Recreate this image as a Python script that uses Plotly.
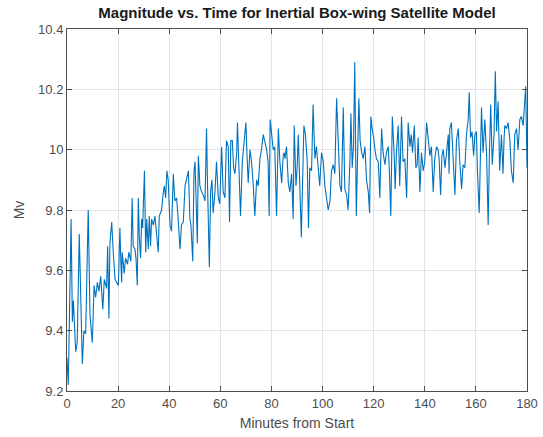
import plotly.graph_objects as go

title_text = "Magnitude vs. Time for Inertial Box-wing Satellite Model"
x_label = "Minutes from Start"
y_label = "Mv"

x_ticks = [0, 20, 40, 60, 80, 100, 120, 140, 160, 180]
y_ticks = [9.2, 9.4, 9.6, 9.8, 10.0, 10.2, 10.4]
y_tick_text = ["9.2", "9.4", "9.6", "9.8", "10", "10.2", "10.4"]

minutes = [
    0.0, 0.5, 1.6, 2.1, 2.5, 3.4, 4.0, 4.8, 6.0, 6.6, 7.3, 8.3, 9.0, 9.9,
    10.6, 11.2, 11.9, 12.5, 13.2, 14.0, 14.6, 15.5, 15.9, 16.4, 16.8, 17.5,
    18.1, 18.8, 20.1, 20.7, 21.1, 21.4, 21.6, 22.4, 22.9, 23.7, 24.2, 25.0,
    25.5, 25.9, 26.6, 27.0, 27.5, 27.9, 28.3, 28.8, 29.2, 29.6, 30.3, 30.8,
    31.2, 31.8, 32.2, 32.7, 33.1, 33.8, 34.4, 35.1, 35.7, 36.1, 37.0, 37.7,
    38.1, 38.6, 39.1, 39.6, 40.3, 40.9, 41.6, 42.2, 42.9, 43.5, 44.2, 44.8,
    45.5, 46.2, 46.8, 47.5, 48.1, 48.5, 49.2, 49.7, 50.1, 50.5, 51.0, 51.4,
    52.0, 52.7, 53.3, 54.0, 54.6, 55.0, 55.7, 56.2, 56.7, 57.2, 57.9, 58.5,
    59.2, 59.8, 60.5, 61.1, 61.8, 62.4, 63.1, 63.6, 64.1, 64.7, 65.2, 65.7,
    66.4, 66.7, 67.2, 67.9, 68.6, 69.4, 70.0, 70.4, 70.9, 71.6, 72.2, 72.9,
    73.5, 74.2, 74.8, 75.5, 76.1, 76.8, 77.4, 78.1, 78.7, 79.1, 79.5, 80.0,
    80.7, 81.3, 82.0, 82.7, 83.3, 84.0, 84.6, 85.0, 85.3, 85.9, 86.6, 87.2,
    87.9, 88.5, 88.9, 89.6, 90.1, 90.5, 91.1, 91.7, 92.2, 92.7, 93.3, 94.0,
    94.5, 95.0, 95.7, 96.3, 97.0, 97.6, 98.3, 98.9, 99.6, 100.3, 100.9, 101.6,
    102.2, 102.9, 103.5, 104.2, 104.8, 105.5, 106.1, 106.8, 107.4, 108.1,
    108.7, 109.4, 110.0, 110.7, 111.1, 111.6, 112.1, 112.6, 113.2, 113.7,
    114.2, 114.7, 115.3, 115.9, 116.6, 117.2, 117.9, 118.4, 118.9, 119.4,
    120.0, 120.5, 121.1, 121.8, 122.4, 123.1, 123.7, 124.4, 125.0, 125.7,
    126.1, 126.7, 127.3, 128.0, 128.4, 128.9, 129.6, 130.2, 130.9, 131.5,
    132.2, 132.9, 133.5, 134.2, 134.7, 135.2, 135.9, 136.5, 137.0, 137.4,
    138.1, 138.7, 139.4, 140.0, 140.7, 141.3, 142.0, 142.6, 143.3, 143.9,
    144.6, 145.2, 145.6, 146.2, 146.7, 147.2, 147.9, 148.5, 149.2, 149.5,
    149.8, 150.4, 151.1, 151.8, 152.4, 153.1, 153.7, 154.4, 155.0, 155.7,
    156.3, 157.0, 157.4, 157.9, 158.5, 159.1, 159.6, 160.2, 160.6, 161.3,
    161.8, 162.2, 162.8, 163.5, 164.2, 164.8, 165.3, 165.8, 166.4, 167.1,
    167.6, 168.1, 168.7, 169.3, 170.0, 170.6, 171.0, 171.3, 172.0, 172.6,
    173.3, 173.9, 174.6, 175.2, 175.9, 176.5, 177.2, 177.8, 178.5, 179.1,
    179.5, 180.0,
]

mv = [
    9.31, 9.22, 9.77, 9.43, 9.50, 9.33, 9.36, 9.72, 9.29, 9.40, 9.39, 9.80, 9.45, 9.36,
    9.55, 9.51, 9.56, 9.53, 9.58, 9.47, 9.57, 9.54, 9.68, 9.44, 9.69, 9.76,
    9.66, 9.57, 9.55, 9.74, 9.62, 9.56, 9.66, 9.59, 9.64, 9.62, 9.66, 9.63,
    9.84, 9.68, 9.67, 9.64, 9.55, 9.84, 9.71, 9.64, 9.77, 9.74, 9.93, 9.66,
    9.77, 9.67, 9.78, 9.68, 9.77, 9.75, 9.78, 9.72, 9.66, 9.78, 9.80, 9.86,
    9.88, 9.84, 9.93, 9.90, 9.75, 9.73, 9.92, 9.83, 9.84, 9.77, 9.67, 9.75,
    9.76, 9.88, 9.90, 9.93, 9.77, 9.75, 9.63, 9.93, 9.96, 9.82, 9.69, 9.98,
    9.88, 9.86, 9.85, 9.83, 10.07, 9.88, 9.61, 9.86, 9.90, 9.79, 9.86, 9.96,
    9.84, 9.82, 10.01, 9.86, 9.84, 10.03, 10.01, 9.76, 10.03, 10.03, 9.94, 9.92,
    9.99, 10.09, 9.94, 9.78, 9.96, 10.04, 10.09, 9.99, 9.89, 10.00, 9.96, 9.88,
    9.78, 9.90, 9.88, 9.97, 10.00, 10.05, 10.03, 10.00, 9.96, 9.78, 10.10, 10.06,
    10.00, 10.01, 9.78, 10.07, 9.96, 9.89, 9.98, 9.99, 9.97, 10.01, 9.89, 9.86,
    9.92, 9.77, 10.08, 9.88, 9.95, 10.05, 9.83, 9.71, 9.90, 10.08, 10.05, 9.96,
    9.74, 9.94, 9.93, 10.15, 9.97, 10.01, 9.94, 9.88, 9.99, 9.96, 9.88, 9.84,
    9.80, 9.83, 9.93, 9.95, 9.92, 10.17, 10.05, 9.88, 9.86, 10.14,
    9.87, 9.85, 9.80, 9.96, 10.12, 9.94, 10.01, 10.29, 9.78, 10.04,
    10.17, 10.03, 9.99, 9.97, 10.01, 9.90, 9.86, 9.79, 10.11, 10.07,
    10.04, 10.00, 9.97, 9.96, 9.84, 10.07, 9.99, 9.95, 9.99, 10.01,
    9.94, 9.78, 10.11, 9.99, 9.87, 9.99, 10.08, 9.88, 10.11, 9.96,
    9.97, 9.84, 10.09, 10.01, 10.05, 9.99, 10.08, 9.94, 9.95, 10.04,
    9.86, 9.99, 9.93, 9.96, 10.09, 10.04, 9.98, 10.01, 9.86, 9.97,
    10.01, 10.00, 9.97, 9.85, 9.98, 10.00, 9.94, 9.99, 10.05, 9.92,
    10.07, 10.09, 9.99, 9.85, 10.03, 10.07, 9.96, 9.87, 9.95, 9.94,
    10.05, 10.10, 10.19, 10.04, 10.06, 9.98, 10.05, 10.06, 9.93, 9.79,
    9.99, 10.14, 9.99, 10.10, 9.98, 9.75, 9.99, 10.15, 9.95, 10.05,
    10.26, 10.06, 10.16, 9.93, 10.05, 9.92, 10.03, 10.08, 10.07, 10.09,
    10.03, 9.93, 9.89, 10.05, 10.07, 10.00, 10.10, 10.11, 10.08, 10.15,
    10.21, 9.94,
]

font_family = "Liberation Sans, Arial, sans-serif"
axis_color = "#4d4d4d"
grid_color = "#e3e3e3"

fig = go.Figure()
fig.add_trace(go.Scatter(
    x=minutes, y=mv, mode="lines",
    line=dict(color="#0072BD", width=1.1),
    showlegend=False,
))

fig.update_layout(
    width=543, height=437,
    margin=dict(l=67, r=16, t=29, b=46, autoexpand=False),
    paper_bgcolor="white", plot_bgcolor="white",
    font=dict(family=font_family, size=13, color=axis_color),
    title=dict(
        text="<b>" + title_text + "</b>",
        x=(67 + 527) / 2 / 543, xanchor="center",
        y=1 - 13 / 437, yanchor="middle", yref="container",
        font=dict(family=font_family, size=15, color="#1a1a1a"),
    ),
)

fig.update_xaxes(
    range=[0, 180], tickvals=x_ticks, automargin=False,
    showline=True, linecolor=axis_color, linewidth=1, mirror="ticks",
    ticks="inside", ticklen=5, tickcolor=axis_color,
    showgrid=True, gridcolor=grid_color, gridwidth=1, zeroline=False,
    tickfont=dict(size=13, color=axis_color),
    title=dict(text=x_label, font=dict(size=14, color=axis_color), standoff=8),
)
fig.update_yaxes(
    range=[9.2, 10.4], tickvals=y_ticks, ticktext=y_tick_text, automargin=False,
    showline=True, linecolor=axis_color, linewidth=1, mirror="ticks",
    ticks="inside", ticklen=5, tickcolor=axis_color,
    showgrid=True, gridcolor=grid_color, gridwidth=1, zeroline=False,
    tickfont=dict(size=13, color=axis_color),
    title=dict(text=y_label, font=dict(size=14, color=axis_color), standoff=10),
)

fig.write_html("out.html")
